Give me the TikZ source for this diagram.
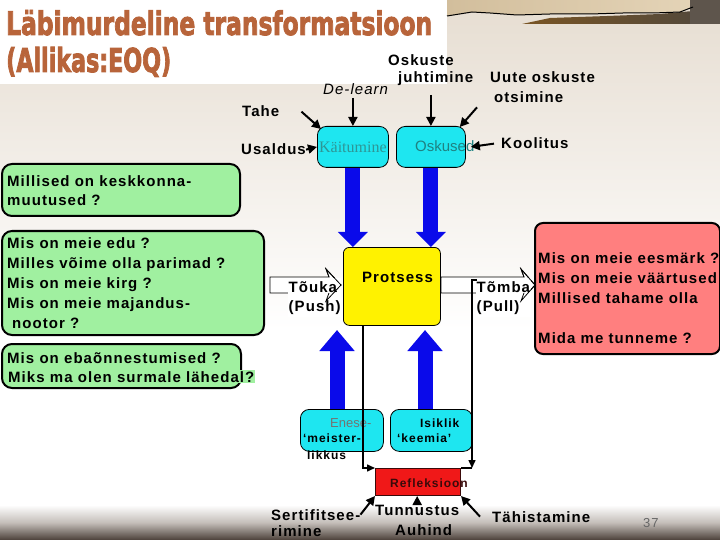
\documentclass[tikz,border=0pt]{standalone}
\usepackage{fontspec}
\usepackage{graphicx}
\setmainfont{Liberation Sans}
\newfontfamily\lsp[LetterSpace=7]{Liberation Sans}
\newfontfamily\lspb[LetterSpace=8]{Liberation Sans}
\newfontfamily\serk{Liberation Serif}
\newfontfamily\ttlfont[BoldFeatures={FakeBold=3}]{DejaVu Sans}
\usetikzlibrary{arrows.meta}
\newcommand\mytab[1]{\begin{tabular}[t]{@{}l@{}}#1\end{tabular}}
\definecolor{titlebrown}{HTML}{B8643A}
\definecolor{boxgreen}{HTML}{A0F0A0}
\definecolor{boxcyan}{HTML}{1EE6F0}
\definecolor{arrowblue}{HTML}{0A0AEA}
\definecolor{salmon}{HTML}{FF7F7F}
\definecolor{refred}{HTML}{F01818}
\definecolor{refdark}{HTML}{3A0A0A}
\definecolor{tealtxt}{HTML}{2E9696}
\definecolor{tealtxtb}{HTML}{1F8282}
\definecolor{bgbeige}{HTML}{E6DDD1}
\definecolor{bottomdark}{HTML}{4B4039}
\definecolor{midgray}{HTML}{C4BEB9}
\definecolor{tanA}{HTML}{D2BE9C}
\definecolor{tanB}{HTML}{E6D6BA}
\definecolor{shbrown}{HTML}{7A5524}
\definecolor{shgray}{HTML}{4E473E}
\definecolor{darkblock}{HTML}{5E554C}
\begin{document}
\begin{tikzpicture}[x=1pt,y=-1pt,
  lbl/.style={font=\lsp\bfseries\fontsize{15}{20}\selectfont, inner sep=0pt, anchor=base west},
  bld/.style={font=\lspb\bfseries\fontsize{12}{14}\selectfont, inner sep=0pt, anchor=base west},
  gbox/.style={draw=black, line width=2pt, fill=boxgreen, rounded corners=10pt, anchor=north west, inner sep=0pt},
  cbox/.style={draw=black, line width=0.8pt, fill=boxcyan, rounded corners=9pt, anchor=north west, inner sep=0pt},
  conn/.style={line width=2pt, -{Triangle[length=9pt,width=9pt]}},
  thinconn/.style={line width=1.5pt, -{Triangle[length=8pt,width=7pt]}},
  bluedown/.style={draw=arrowblue, line width=15pt, -{Triangle[length=15pt,width=29pt]}},
  blueup/.style={draw=arrowblue, line width=15pt, -{Triangle[length=21pt,width=34pt]}},
  hollow/.style={draw=black, line width=0.8pt, fill=white},
  chevron/.style={draw=black, line width=0.8pt}
]
\useasboundingbox (0,0) rectangle (720,540);
% background
\fill[white] (0,0) rectangle (720,540);
\shade[top color=bgbeige, bottom color=white] (0,0) rectangle (720,330);
\shade[top color=white, bottom color=bottomdark, middle color=midgray] (0,505) rectangle (720,540);
\fill[white] (0,0) rectangle (447,84);
% parchment
\shade[left color=tanA, right color=tanB] (447,0) -- (720,0) -- (720,8) -- (693,7) -- (680,12) -- (653,13) -- (623,13) -- (590,14) -- (550,14) -- (517,15) -- (490,13) -- (472,12) -- (447,16) -- cycle;
\shade[left color=shbrown, right color=shgray] (522,24) -- (550,18) -- (607,16) -- (660,14) -- (693,11) -- (720,8) -- (720,24) -- cycle;
\fill[darkblock] (690,0) rectangle (720,24);
\draw[line width=1pt] (447,16) -- (472,12) -- (490,13) -- (517,15) -- (550,14) -- (590,14) -- (623,13) -- (653,13) -- (680,12) -- (693,7);
% title
\node[anchor=base west, inner sep=0pt, text=titlebrown] (t1) at (6,35) {\resizebox{426pt}{25pt}{\ttlfont\bfseries Läbimurdeline transformatsioon}};
\node[anchor=base west, inner sep=0pt, text=titlebrown] (t2) at (6,72) {\resizebox{165pt}{25pt}{\ttlfont\bfseries (Allikas:EOQ)}};
% top labels
\node[lbl] (oskA) at (388,66) {Oskuste};
\node[lbl] (oskB) at (398,83) {juhtimine};
\node[lbl] (uuteA) at (490,83) {Uute oskuste};
\node[lbl] (uuteB) at (494,103) {otsimine};
\node[lbl, font=\lsp\itshape\fontsize{15}{20}\selectfont] (delearn) at (323,95) {De-learn};
\node[lbl] (tahe) at (242,117) {Tahe};
\node[lbl] (usaldus) at (241,155) {Usaldus};
\node[lbl] (koolitus) at (501,149) {Koolitus};
% cyan top boxes
\node[cbox, minimum width=71pt, minimum height=41pt, font=\serk\fontsize{16}{18}\selectfont, text=tealtxt] (kait) at (317,126) {Käitumine};
\node[cbox, minimum width=69pt, minimum height=41pt] (osk) at (396,126) {};
\node[anchor=base west, inner sep=0pt, font=\fontsize{15}{18}\selectfont, text=tealtxtb] (oskt) at (415,152) {Oskused};
% arrows into top boxes
\draw[conn] ([yshift=28pt]kait.north) -- (kait.north);
\draw[conn] ([yshift=31pt]osk.north) -- (osk.north);
\draw[conn] ([xshift=22pt]tahe.east) -- ([xshift=4pt,yshift=-3pt]kait.north west);
\draw[conn] (usaldus.east) -- (kait.west);
\draw[conn] ([xshift=-17pt,yshift=-4pt]uuteB.south west) -- ([xshift=-6pt,yshift=-1pt]osk.north east);
\draw[conn] ([xshift=-7pt]koolitus.west) -- ([xshift=5pt]osk.east);
% green boxes
\node[gbox, minimum width=238pt, minimum height=52pt] (g1) at (1,163) {};
\node[lbl, font=\lsp\bfseries\fontsize{15}{18.3}\selectfont] (g1t) at (7,187) {\mytab{Millised on keskkonna-\\muutused ?}};
\node[gbox, minimum width=262pt, minimum height=104pt] (g2) at (1,230) {};
\node[lbl] (g2t) at (7,248) {\mytab{Mis on meie edu ?\\Milles võime olla parimad ?\\Mis on meie kirg ?\\Mis on meie majandus-\\\hspace{5pt}nootor ?}};
\node[gbox, minimum width=239pt, minimum height=44pt] (g3) at (1,343) {};
\node[lbl] (g3a) at (7,363) {Mis on ebaõnnestumised ?};
\node[lbl, fill=boxgreen, inner sep=1pt] (g3b) at (7,382) {Miks ma olen surmale lähedal?};
% process box
\node[draw=black, line width=0.8pt, fill=yellow, rounded corners=6pt, anchor=north west, inner sep=0pt, minimum width=97pt, minimum height=78pt] (prot) at (343,247) {};
\node[lbl] (prott) at (362,282) {Protsess};
% goal box
\node[draw=black, line width=2pt, fill=salmon, rounded corners=8pt, anchor=north west, inner sep=0pt, minimum width=185pt, minimum height=131pt] (goal) at (534,222) {};
\node[lbl] (goalt) at (538,263) {\mytab{Mis on meie eesmärk ?\\Mis on meie väärtused\\Millised tahame olla\\ \\Mida me tunneme ?}};
% push / pull arrows
\draw[hollow] (270,277) -- (329,277) -- (326,269) -- (341,285) -- (326,301) -- (329,293) -- (270,293) -- cycle;
\draw[hollow] (441,277) -- (524,277) -- (521,269) -- (535,285) -- (521,301) -- (524,293) -- (441,293) -- cycle;
\node[lbl, font=\lsp\bfseries\fontsize{15}{19}\selectfont, fill=white, inner sep=0.5pt] (push) at (288,292) {\mytab{Tõuka\\(Push)}};
\node[lbl, font=\lsp\bfseries\fontsize{15}{19}\selectfont, fill=white, inner sep=0.5pt] (pull) at (476,292) {\mytab{Tõmba\\(Pull)}};
\draw[chevron] (329,277) -- (326,269) -- (341,285) -- (326,301) -- (329,293);
\draw[chevron] (524,277) -- (521,269) -- (535,285) -- (521,301) -- (524,293);
% blue arrows
\draw[bluedown] (kait.south) -- (kait.south |- prot.north);
\draw[bluedown] (osk.south) -- (osk.south |- prot.north);
% lower cyan boxes
\node[cbox, minimum width=83pt, minimum height=42pt] (en) at (300,409) {};
\node[cbox, minimum width=82pt, minimum height=42pt] (isi) at (390,409) {};
\coordinate (upA) at (337,330);
\coordinate (upB) at (425,330);
\draw[blueup] (en.north -| upA) -- (upA);
\draw[blueup] (isi.north -| upB) -- (upB);
\node[anchor=base west, inner sep=0pt, font=\fontsize{13}{14}\selectfont, text=black!55] (enA) at (330,427) {Enese-};
\node[bld] (enB) at (303,442) {‘meister-};
\node[bld] (enC) at (307,459) {likkus};
\node[bld] (isiA) at (420,427) {Isiklik};
\node[bld] (isiB) at (397,442) {‘keemia’};
% reflection
\node[draw=refdark, line width=1pt, fill=refred, anchor=north west, inner sep=0pt, minimum width=85pt, minimum height=27pt] (refl) at (375,468) {};
\node[bld, text=refdark] (reflt) at (390,487) {Refleksioon};
\coordinate (lx) at (363,0);
\draw[thinconn] (prot.south -| lx) |- (refl.north west);
\coordinate (rtap) at (477,280);
\coordinate (rx) at (472,280);
\draw[thinconn] (rtap) -- (rx) -- (rx |- refl.north);
\draw[line width=1.5pt] (rx |- refl.north) -- (refl.north east);
% bottom labels
\node[lbl] (sertA) at (271,520) {Sertifitsee-};
\node[lbl] (sertB) at (271,536) {rimine};
\node[lbl] (tunn) at (375,515) {Tunnustus};
\node[lbl] (auh) at (395,535) {Auhind};
\node[lbl] (tah) at (492,522) {Tähistamine};
\node[lbl, font=\lsp\fontsize{13}{16}\selectfont, text=black!60] (pnum) at (643,527) {37};
\draw[conn] (sertA.east) -- (refl.south west);
\draw[conn] (tunn.north) -- (tunn.north |- refl.south);
\draw[conn] ([xshift=-12pt]tah.west) -- (refl.south east);
\end{tikzpicture}
\end{document}
